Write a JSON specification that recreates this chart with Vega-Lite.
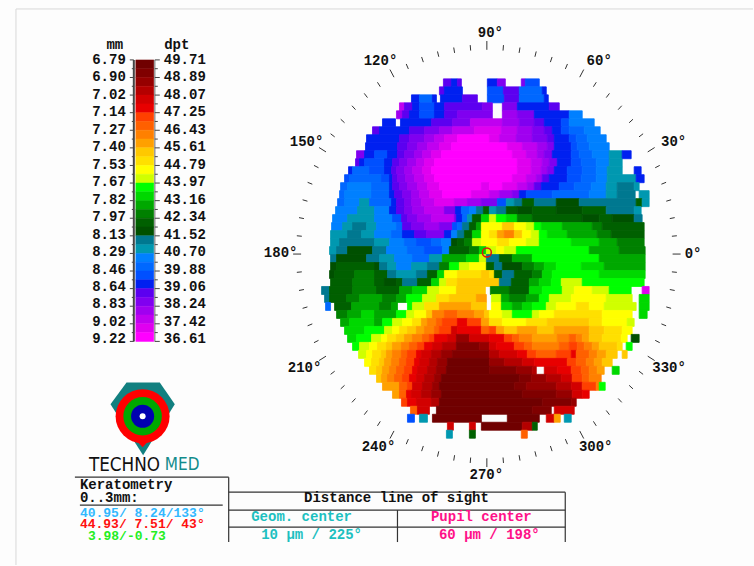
{"$schema":"https://vega.github.io/schema/vega-lite/v6.json","width":754,"height":566,"autosize":{"type":"fit","contains":"padding"},"padding":0,"background":"#fdfdfd","view":{"stroke":null},
"datasets":{"map":[
{"y":83,"x":444,"x2":452,"b":27},{"y":83,"x":452,"x2":458,"b":26},{"y":83,"x":458,"x2":462,"b":27},{"y":83,"x":488,"x2":498,"b":26},{"y":83,"x":498,"x2":506,"b":28},{"y":83,"x":522,"x2":526,"b":28},{"y":83,"x":526,"x2":540,"b":25},
{"y":91,"x":440,"x2":445,"b":27},{"y":91,"x":445,"x2":463,"b":26},{"y":91,"x":488,"x2":504,"b":25},{"y":91,"x":504,"x2":520,"b":27},{"y":91,"x":520,"x2":543,"b":24},{"y":91,"x":543,"x2":547,"b":26},
{"y":99,"x":412,"x2":420,"b":26},{"y":99,"x":420,"x2":433,"b":24},{"y":99,"x":433,"x2":437,"b":26},{"y":99,"x":441,"x2":463,"b":26},{"y":99,"x":463,"x2":478,"b":27},{"y":99,"x":488,"x2":505,"b":25},{"y":99,"x":505,"x2":520,"b":27},{"y":99,"x":520,"x2":545,"b":24},{"y":99,"x":545,"x2":549,"b":26},
{"y":107,"x":400,"x2":405,"b":30},{"y":107,"x":405,"x2":413,"b":27},{"y":107,"x":413,"x2":420,"b":26},{"y":107,"x":420,"x2":435,"b":25},{"y":107,"x":435,"x2":445,"b":26},{"y":107,"x":445,"x2":483,"b":27},{"y":107,"x":483,"x2":493,"b":28},{"y":107,"x":503,"x2":518,"b":28},{"y":107,"x":518,"x2":550,"b":26},{"y":107,"x":550,"x2":560,"b":27},
{"y":115,"x":397,"x2":403,"b":29},{"y":115,"x":403,"x2":410,"b":27},{"y":115,"x":410,"x2":420,"b":26},{"y":115,"x":420,"x2":435,"b":25},{"y":115,"x":435,"x2":445,"b":26},{"y":115,"x":445,"x2":458,"b":27},{"y":115,"x":458,"x2":493,"b":28},{"y":115,"x":503,"x2":518,"b":29},{"y":115,"x":518,"x2":535,"b":28},{"y":115,"x":535,"x2":570,"b":26},{"y":115,"x":570,"x2":583,"b":23},
{"y":123,"x":383,"x2":396,"b":26},{"y":123,"x":401,"x2":432,"b":26},{"y":123,"x":432,"x2":453,"b":27},{"y":123,"x":453,"x2":471,"b":28},{"y":123,"x":471,"x2":503,"b":30},{"y":123,"x":503,"x2":520,"b":29},{"y":123,"x":520,"x2":535,"b":28},{"y":123,"x":535,"x2":545,"b":27},{"y":123,"x":545,"x2":562,"b":26},{"y":123,"x":562,"x2":570,"b":25},{"y":123,"x":570,"x2":595,"b":23},
{"y":131,"x":373,"x2":380,"b":27},{"y":131,"x":380,"x2":410,"b":26},{"y":131,"x":410,"x2":425,"b":27},{"y":131,"x":425,"x2":440,"b":28},{"y":131,"x":440,"x2":453,"b":29},{"y":131,"x":453,"x2":475,"b":30},{"y":131,"x":475,"x2":502,"b":31},{"y":131,"x":502,"x2":518,"b":30},{"y":131,"x":518,"x2":533,"b":29},{"y":131,"x":533,"x2":545,"b":28},{"y":131,"x":545,"x2":553,"b":27},{"y":131,"x":553,"x2":562,"b":26},{"y":131,"x":562,"x2":570,"b":25},{"y":131,"x":570,"x2":585,"b":24},{"y":131,"x":585,"x2":601,"b":23},
{"y":139,"x":367,"x2":400,"b":26},{"y":139,"x":400,"x2":410,"b":27},{"y":139,"x":410,"x2":425,"b":28},{"y":139,"x":425,"x2":435,"b":29},{"y":139,"x":435,"x2":445,"b":30},{"y":139,"x":445,"x2":458,"b":31},{"y":139,"x":458,"x2":490,"b":32},{"y":139,"x":490,"x2":500,"b":31},{"y":139,"x":500,"x2":517,"b":30},{"y":139,"x":517,"x2":533,"b":29},{"y":139,"x":533,"x2":548,"b":28},{"y":139,"x":548,"x2":555,"b":27},{"y":139,"x":555,"x2":570,"b":26},{"y":139,"x":570,"x2":577,"b":25},{"y":139,"x":577,"x2":588,"b":24},{"y":139,"x":588,"x2":607,"b":23},
{"y":147,"x":366,"x2":398,"b":26},{"y":147,"x":398,"x2":408,"b":27},{"y":147,"x":408,"x2":418,"b":28},{"y":147,"x":418,"x2":428,"b":29},{"y":147,"x":428,"x2":440,"b":30},{"y":147,"x":440,"x2":452,"b":31},{"y":147,"x":452,"x2":508,"b":32},{"y":147,"x":508,"x2":523,"b":31},{"y":147,"x":523,"x2":538,"b":30},{"y":147,"x":538,"x2":548,"b":29},{"y":147,"x":548,"x2":555,"b":28},{"y":147,"x":555,"x2":572,"b":26},{"y":147,"x":572,"x2":578,"b":25},{"y":147,"x":578,"x2":590,"b":24},{"y":147,"x":590,"x2":610,"b":23},
{"y":155,"x":357,"x2":365,"b":28},{"y":155,"x":365,"x2":375,"b":26},{"y":155,"x":375,"x2":388,"b":25},{"y":155,"x":388,"x2":398,"b":26},{"y":155,"x":398,"x2":405,"b":27},{"y":155,"x":405,"x2":415,"b":28},{"y":155,"x":415,"x2":423,"b":29},{"y":155,"x":423,"x2":432,"b":30},{"y":155,"x":432,"x2":442,"b":31},{"y":155,"x":442,"x2":513,"b":32},{"y":155,"x":513,"x2":527,"b":31},{"y":155,"x":527,"x2":538,"b":30},{"y":155,"x":538,"x2":545,"b":29},{"y":155,"x":545,"x2":553,"b":28},{"y":155,"x":553,"x2":572,"b":26},{"y":155,"x":572,"x2":580,"b":25},{"y":155,"x":580,"x2":593,"b":24},{"y":155,"x":593,"x2":610,"b":23},{"y":155,"x":610,"x2":623,"b":22},{"y":155,"x":623,"x2":632,"b":26},
{"y":163,"x":356,"x2":360,"b":27},{"y":163,"x":360,"x2":365,"b":26},{"y":163,"x":365,"x2":385,"b":25},{"y":163,"x":385,"x2":393,"b":26},{"y":163,"x":393,"x2":400,"b":27},{"y":163,"x":400,"x2":408,"b":28},{"y":163,"x":408,"x2":417,"b":29},{"y":163,"x":417,"x2":425,"b":30},{"y":163,"x":425,"x2":435,"b":31},{"y":163,"x":435,"x2":518,"b":32},{"y":163,"x":518,"x2":532,"b":31},{"y":163,"x":532,"x2":543,"b":30},{"y":163,"x":543,"x2":550,"b":29},{"y":163,"x":550,"x2":558,"b":28},{"y":163,"x":558,"x2":572,"b":26},{"y":163,"x":572,"x2":582,"b":25},{"y":163,"x":582,"x2":597,"b":24},{"y":163,"x":597,"x2":610,"b":23},{"y":163,"x":610,"x2":623,"b":22},
{"y":171,"x":349,"x2":353,"b":26},{"y":171,"x":353,"x2":370,"b":24},{"y":171,"x":370,"x2":385,"b":25},{"y":171,"x":385,"x2":392,"b":26},{"y":171,"x":392,"x2":397,"b":27},{"y":171,"x":397,"x2":405,"b":28},{"y":171,"x":405,"x2":413,"b":29},{"y":171,"x":413,"x2":423,"b":30},{"y":171,"x":423,"x2":432,"b":31},{"y":171,"x":432,"x2":518,"b":32},{"y":171,"x":518,"x2":532,"b":31},{"y":171,"x":532,"x2":542,"b":30},{"y":171,"x":542,"x2":548,"b":29},{"y":171,"x":548,"x2":555,"b":28},{"y":171,"x":555,"x2":568,"b":26},{"y":171,"x":568,"x2":583,"b":25},{"y":171,"x":583,"x2":597,"b":24},{"y":171,"x":597,"x2":608,"b":23},{"y":171,"x":608,"x2":623,"b":22},{"y":171,"x":635,"x2":642,"b":26},
{"y":179,"x":345,"x2":350,"b":25},{"y":179,"x":350,"x2":382,"b":24},{"y":179,"x":382,"x2":390,"b":25},{"y":179,"x":390,"x2":393,"b":26},{"y":179,"x":393,"x2":398,"b":27},{"y":179,"x":398,"x2":406,"b":28},{"y":179,"x":406,"x2":415,"b":29},{"y":179,"x":415,"x2":425,"b":30},{"y":179,"x":425,"x2":435,"b":31},{"y":179,"x":435,"x2":513,"b":32},{"y":179,"x":513,"x2":527,"b":31},{"y":179,"x":527,"x2":537,"b":30},{"y":179,"x":537,"x2":543,"b":29},{"y":179,"x":543,"x2":550,"b":27},{"y":179,"x":550,"x2":568,"b":26},{"y":179,"x":568,"x2":582,"b":25},{"y":179,"x":582,"x2":597,"b":24},{"y":179,"x":597,"x2":608,"b":23},{"y":179,"x":608,"x2":637,"b":22},{"y":179,"x":637,"x2":645,"b":26},
{"y":187,"x":341,"x2":348,"b":24},{"y":187,"x":348,"x2":372,"b":23},{"y":187,"x":372,"x2":390,"b":24},{"y":187,"x":390,"x2":393,"b":26},{"y":187,"x":393,"x2":400,"b":27},{"y":187,"x":400,"x2":408,"b":28},{"y":187,"x":408,"x2":418,"b":29},{"y":187,"x":418,"x2":428,"b":30},{"y":187,"x":428,"x2":440,"b":31},{"y":187,"x":440,"x2":482,"b":32},{"y":187,"x":482,"x2":490,"b":31},{"y":187,"x":490,"x2":503,"b":32},{"y":187,"x":503,"x2":518,"b":31},{"y":187,"x":518,"x2":528,"b":30},{"y":187,"x":528,"x2":535,"b":29},{"y":187,"x":535,"x2":542,"b":27},{"y":187,"x":542,"x2":560,"b":26},{"y":187,"x":560,"x2":575,"b":25},{"y":187,"x":575,"x2":592,"b":24},{"y":187,"x":592,"x2":607,"b":23},{"y":187,"x":607,"x2":618,"b":22},{"y":187,"x":618,"x2":635,"b":21},{"y":187,"x":635,"x2":640,"b":22},
{"y":195,"x":340,"x2":345,"b":24},{"y":195,"x":345,"x2":372,"b":23},{"y":195,"x":372,"x2":390,"b":24},{"y":195,"x":390,"x2":395,"b":26},{"y":195,"x":395,"x2":403,"b":27},{"y":195,"x":403,"x2":412,"b":28},{"y":195,"x":412,"x2":420,"b":29},{"y":195,"x":420,"x2":430,"b":30},{"y":195,"x":430,"x2":443,"b":31},{"y":195,"x":443,"x2":472,"b":32},{"y":195,"x":472,"x2":490,"b":31},{"y":195,"x":490,"x2":500,"b":30},{"y":195,"x":500,"x2":513,"b":29},{"y":195,"x":513,"x2":520,"b":28},{"y":195,"x":520,"x2":527,"b":26},{"y":195,"x":527,"x2":553,"b":25},{"y":195,"x":553,"x2":590,"b":24},{"y":195,"x":590,"x2":607,"b":23},{"y":195,"x":607,"x2":618,"b":22},{"y":195,"x":618,"x2":636,"b":21},{"y":195,"x":640,"x2":650,"b":22},
{"y":203,"x":338,"x2":345,"b":24},{"y":203,"x":345,"x2":360,"b":23},{"y":203,"x":360,"x2":370,"b":22},{"y":203,"x":370,"x2":392,"b":24},{"y":203,"x":392,"x2":397,"b":26},{"y":203,"x":397,"x2":405,"b":27},{"y":203,"x":405,"x2":412,"b":28},{"y":203,"x":412,"x2":422,"b":29},{"y":203,"x":422,"x2":435,"b":30},{"y":203,"x":435,"x2":455,"b":31},{"y":203,"x":455,"x2":468,"b":30},{"y":203,"x":468,"x2":482,"b":29},{"y":203,"x":482,"x2":498,"b":28},{"y":203,"x":498,"x2":507,"b":25},{"y":203,"x":507,"x2":515,"b":22},{"y":203,"x":515,"x2":523,"b":21},{"y":203,"x":523,"x2":535,"b":19},{"y":203,"x":535,"x2":557,"b":21},{"y":203,"x":557,"x2":580,"b":20},{"y":203,"x":580,"x2":637,"b":21},{"y":203,"x":637,"x2":643,"b":19},{"y":203,"x":643,"x2":650,"b":22},
{"y":211,"x":336,"x2":358,"b":23},{"y":211,"x":358,"x2":375,"b":22},{"y":211,"x":375,"x2":390,"b":23},{"y":211,"x":390,"x2":397,"b":26},{"y":211,"x":397,"x2":405,"b":27},{"y":211,"x":405,"x2":413,"b":28},{"y":211,"x":413,"x2":425,"b":29},{"y":211,"x":425,"x2":445,"b":30},{"y":211,"x":445,"x2":456,"b":28},{"y":211,"x":456,"x2":462,"b":26},{"y":211,"x":462,"x2":470,"b":24},{"y":211,"x":470,"x2":477,"b":23},{"y":211,"x":477,"x2":484,"b":21},{"y":211,"x":484,"x2":490,"b":19},{"y":211,"x":490,"x2":497,"b":22},{"y":211,"x":497,"x2":507,"b":21},{"y":211,"x":507,"x2":518,"b":19},{"y":211,"x":518,"x2":533,"b":20},{"y":211,"x":533,"x2":557,"b":19},{"y":211,"x":557,"x2":583,"b":20},{"y":211,"x":583,"x2":607,"b":19},{"y":211,"x":607,"x2":635,"b":21},{"y":211,"x":635,"x2":642,"b":22},
{"y":219,"x":333,"x2":348,"b":23},{"y":219,"x":348,"x2":375,"b":22},{"y":219,"x":375,"x2":393,"b":23},{"y":219,"x":393,"x2":402,"b":25},{"y":219,"x":402,"x2":408,"b":27},{"y":219,"x":408,"x2":418,"b":28},{"y":219,"x":418,"x2":432,"b":29},{"y":219,"x":432,"x2":455,"b":30},{"y":219,"x":455,"x2":457,"b":28},{"y":219,"x":457,"x2":463,"b":26},{"y":219,"x":463,"x2":468,"b":24},{"y":219,"x":468,"x2":473,"b":22},{"y":219,"x":473,"x2":482,"b":19},{"y":219,"x":482,"x2":490,"b":16},{"y":219,"x":490,"x2":497,"b":14},{"y":219,"x":497,"x2":507,"b":15},{"y":219,"x":507,"x2":518,"b":16},{"y":219,"x":518,"x2":533,"b":18},{"y":219,"x":533,"x2":583,"b":19},{"y":219,"x":583,"x2":600,"b":20},{"y":219,"x":600,"x2":613,"b":19},{"y":219,"x":613,"x2":635,"b":20},{"y":219,"x":635,"x2":643,"b":21},
{"y":227,"x":332,"x2":343,"b":23},{"y":227,"x":343,"x2":353,"b":22},{"y":227,"x":353,"x2":367,"b":21},{"y":227,"x":367,"x2":377,"b":22},{"y":227,"x":377,"x2":397,"b":23},{"y":227,"x":397,"x2":403,"b":24},{"y":227,"x":403,"x2":412,"b":27},{"y":227,"x":412,"x2":425,"b":28},{"y":227,"x":425,"x2":440,"b":29},{"y":227,"x":440,"x2":453,"b":28},{"y":227,"x":453,"x2":458,"b":25},{"y":227,"x":458,"x2":463,"b":24},{"y":227,"x":463,"x2":470,"b":21},{"y":227,"x":470,"x2":477,"b":19},{"y":227,"x":477,"x2":482,"b":17},{"y":227,"x":482,"x2":503,"b":13},{"y":227,"x":503,"x2":515,"b":11},{"y":227,"x":515,"x2":527,"b":13},{"y":227,"x":527,"x2":535,"b":14},{"y":227,"x":535,"x2":542,"b":15},{"y":227,"x":542,"x2":563,"b":16},{"y":227,"x":563,"x2":593,"b":17},{"y":227,"x":593,"x2":603,"b":18},{"y":227,"x":603,"x2":645,"b":19},
{"y":235,"x":331,"x2":348,"b":22},{"y":235,"x":348,"x2":362,"b":21},{"y":235,"x":362,"x2":375,"b":22},{"y":235,"x":375,"x2":392,"b":23},{"y":235,"x":392,"x2":403,"b":24},{"y":235,"x":403,"x2":415,"b":26},{"y":235,"x":415,"x2":427,"b":27},{"y":235,"x":427,"x2":445,"b":28},{"y":235,"x":445,"x2":452,"b":26},{"y":235,"x":452,"x2":458,"b":23},{"y":235,"x":458,"x2":465,"b":21},{"y":235,"x":465,"x2":473,"b":19},{"y":235,"x":473,"x2":482,"b":16},{"y":235,"x":482,"x2":490,"b":13},{"y":235,"x":490,"x2":498,"b":12},{"y":235,"x":498,"x2":505,"b":10},{"y":235,"x":505,"x2":515,"b":9},{"y":235,"x":515,"x2":523,"b":11},{"y":235,"x":523,"x2":532,"b":13},{"y":235,"x":532,"x2":540,"b":14},{"y":235,"x":540,"x2":548,"b":15},{"y":235,"x":548,"x2":568,"b":16},{"y":235,"x":568,"x2":598,"b":17},{"y":235,"x":598,"x2":612,"b":18},{"y":235,"x":612,"x2":645,"b":19},
{"y":243,"x":331,"x2":340,"b":22},{"y":243,"x":340,"x2":375,"b":21},{"y":243,"x":375,"x2":390,"b":22},{"y":243,"x":390,"x2":405,"b":23},{"y":243,"x":405,"x2":417,"b":24},{"y":243,"x":417,"x2":432,"b":25},{"y":243,"x":432,"x2":442,"b":24},{"y":243,"x":442,"x2":452,"b":23},{"y":243,"x":452,"x2":458,"b":20},{"y":243,"x":458,"x2":465,"b":19},{"y":243,"x":465,"x2":473,"b":18},{"y":243,"x":473,"x2":482,"b":14},{"y":243,"x":482,"x2":498,"b":13},{"y":243,"x":498,"x2":510,"b":12},{"y":243,"x":510,"x2":527,"b":13},{"y":243,"x":527,"x2":540,"b":14},{"y":243,"x":540,"x2":572,"b":15},{"y":243,"x":572,"x2":600,"b":16},{"y":243,"x":600,"x2":618,"b":17},{"y":243,"x":618,"x2":645,"b":18},
{"y":251,"x":330,"x2":337,"b":22},{"y":251,"x":337,"x2":348,"b":21},{"y":251,"x":348,"x2":373,"b":20},{"y":251,"x":373,"x2":387,"b":21},{"y":251,"x":387,"x2":408,"b":23},{"y":251,"x":408,"x2":425,"b":24},{"y":251,"x":425,"x2":443,"b":25},{"y":251,"x":443,"x2":450,"b":23},{"y":251,"x":450,"x2":470,"b":19},{"y":251,"x":470,"x2":480,"b":18},{"y":251,"x":480,"x2":487,"b":16},{"y":251,"x":487,"x2":497,"b":14},{"y":251,"x":497,"x2":505,"b":13},{"y":251,"x":505,"x2":517,"b":14},{"y":251,"x":517,"x2":590,"b":15},{"y":251,"x":590,"x2":620,"b":17},{"y":251,"x":620,"x2":646,"b":18},
{"y":259,"x":331,"x2":337,"b":21},{"y":259,"x":337,"x2":367,"b":20},{"y":259,"x":367,"x2":380,"b":21},{"y":259,"x":380,"x2":395,"b":22},{"y":259,"x":395,"x2":413,"b":23},{"y":259,"x":413,"x2":430,"b":24},{"y":259,"x":430,"x2":443,"b":22},{"y":259,"x":443,"x2":467,"b":17},{"y":259,"x":467,"x2":480,"b":16},{"y":259,"x":480,"x2":487,"b":14},{"y":259,"x":487,"x2":500,"b":21},{"y":259,"x":500,"x2":513,"b":19},{"y":259,"x":513,"x2":533,"b":17},{"y":259,"x":533,"x2":600,"b":15},{"y":259,"x":600,"x2":646,"b":17},
{"y":267,"x":331,"x2":337,"b":20},{"y":267,"x":337,"x2":375,"b":19},{"y":267,"x":375,"x2":380,"b":20},{"y":267,"x":380,"x2":388,"b":21},{"y":267,"x":388,"x2":397,"b":22},{"y":267,"x":397,"x2":412,"b":23},{"y":267,"x":412,"x2":428,"b":22},{"y":267,"x":428,"x2":440,"b":21},{"y":267,"x":440,"x2":450,"b":18},{"y":267,"x":450,"x2":460,"b":15},{"y":267,"x":460,"x2":470,"b":14},{"y":267,"x":470,"x2":487,"b":13},{"y":267,"x":487,"x2":495,"b":19},{"y":267,"x":495,"x2":503,"b":21},{"y":267,"x":503,"x2":523,"b":20},{"y":267,"x":523,"x2":535,"b":18},{"y":267,"x":535,"x2":545,"b":17},{"y":267,"x":545,"x2":557,"b":16},{"y":267,"x":557,"x2":582,"b":15},{"y":267,"x":582,"x2":605,"b":16},{"y":267,"x":605,"x2":646,"b":17},
{"y":275,"x":330,"x2":335,"b":20},{"y":275,"x":335,"x2":355,"b":19},{"y":275,"x":355,"x2":375,"b":18},{"y":275,"x":375,"x2":388,"b":19},{"y":275,"x":388,"x2":397,"b":21},{"y":275,"x":397,"x2":417,"b":22},{"y":275,"x":417,"x2":428,"b":21},{"y":275,"x":428,"x2":438,"b":19},{"y":275,"x":438,"x2":445,"b":16},{"y":275,"x":445,"x2":458,"b":13},{"y":275,"x":458,"x2":482,"b":12},{"y":275,"x":482,"x2":490,"b":11},{"y":275,"x":490,"x2":495,"b":12},{"y":275,"x":495,"x2":503,"b":19},{"y":275,"x":503,"x2":515,"b":21},{"y":275,"x":515,"x2":533,"b":19},{"y":275,"x":533,"x2":543,"b":18},{"y":275,"x":543,"x2":553,"b":16},{"y":275,"x":553,"x2":600,"b":15},{"y":275,"x":600,"x2":646,"b":16},
{"y":283,"x":331,"x2":353,"b":19},{"y":283,"x":353,"x2":375,"b":18},{"y":283,"x":375,"x2":385,"b":19},{"y":283,"x":385,"x2":397,"b":20},{"y":283,"x":397,"x2":403,"b":19},{"y":283,"x":403,"x2":418,"b":21},{"y":283,"x":418,"x2":432,"b":19},{"y":283,"x":432,"x2":440,"b":16},{"y":283,"x":440,"x2":447,"b":14},{"y":283,"x":447,"x2":458,"b":12},{"y":283,"x":458,"x2":500,"b":11},{"y":283,"x":500,"x2":512,"b":21},{"y":283,"x":512,"x2":530,"b":19},{"y":283,"x":530,"x2":540,"b":17},{"y":283,"x":540,"x2":552,"b":16},{"y":283,"x":552,"x2":562,"b":15},{"y":283,"x":562,"x2":583,"b":14},{"y":283,"x":583,"x2":645,"b":15},
{"y":291,"x":322,"x2":330,"b":21},{"y":291,"x":330,"x2":353,"b":19},{"y":291,"x":353,"x2":377,"b":18},{"y":291,"x":377,"x2":400,"b":19},{"y":291,"x":400,"x2":413,"b":17},{"y":291,"x":413,"x2":428,"b":16},{"y":291,"x":428,"x2":440,"b":14},{"y":291,"x":440,"x2":457,"b":13},{"y":291,"x":457,"x2":486,"b":11},{"y":291,"x":491,"x2":510,"b":18},{"y":291,"x":510,"x2":530,"b":19},{"y":291,"x":530,"x2":543,"b":16},{"y":291,"x":543,"x2":563,"b":15},{"y":291,"x":563,"x2":575,"b":14},{"y":291,"x":575,"x2":593,"b":13},{"y":291,"x":593,"x2":610,"b":14},{"y":291,"x":610,"x2":632,"b":15},{"y":291,"x":643,"x2":650,"b":31},
{"y":299,"x":325,"x2":330,"b":21},{"y":299,"x":330,"x2":347,"b":19},{"y":299,"x":347,"x2":360,"b":18},{"y":299,"x":360,"x2":383,"b":17},{"y":299,"x":383,"x2":397,"b":18},{"y":299,"x":397,"x2":407,"b":17},{"y":299,"x":407,"x2":423,"b":15},{"y":299,"x":423,"x2":437,"b":14},{"y":299,"x":437,"x2":450,"b":12},{"y":299,"x":450,"x2":477,"b":11},{"y":299,"x":477,"x2":487,"b":10},{"y":299,"x":492,"x2":502,"b":14},{"y":299,"x":502,"x2":510,"b":17},{"y":299,"x":510,"x2":527,"b":18},{"y":299,"x":527,"x2":540,"b":17},{"y":299,"x":540,"x2":550,"b":15},{"y":299,"x":550,"x2":572,"b":14},{"y":299,"x":572,"x2":607,"b":13},{"y":299,"x":607,"x2":633,"b":14},{"y":299,"x":640,"x2":650,"b":16},
{"y":307,"x":326,"x2":331,"b":24},{"y":307,"x":335,"x2":352,"b":19},{"y":307,"x":352,"x2":380,"b":17},{"y":307,"x":380,"x2":392,"b":18},{"y":307,"x":392,"x2":398,"b":17},{"y":307,"x":408,"x2":413,"b":15},{"y":307,"x":413,"x2":425,"b":14},{"y":307,"x":425,"x2":440,"b":12},{"y":307,"x":440,"x2":472,"b":10},{"y":307,"x":472,"x2":487,"b":11},{"y":307,"x":492,"x2":502,"b":13},{"y":307,"x":502,"x2":513,"b":16},{"y":307,"x":513,"x2":523,"b":17},{"y":307,"x":523,"x2":533,"b":16},{"y":307,"x":533,"x2":547,"b":15},{"y":307,"x":547,"x2":557,"b":14},{"y":307,"x":557,"x2":577,"b":13},{"y":307,"x":577,"x2":590,"b":12},{"y":307,"x":590,"x2":605,"b":13},{"y":307,"x":605,"x2":637,"b":14},{"y":307,"x":640,"x2":650,"b":16},
{"y":315,"x":337,"x2":348,"b":18},{"y":315,"x":348,"x2":362,"b":17},{"y":315,"x":362,"x2":375,"b":16},{"y":315,"x":375,"x2":397,"b":17},{"y":315,"x":397,"x2":407,"b":15},{"y":315,"x":407,"x2":415,"b":14},{"y":315,"x":415,"x2":427,"b":13},{"y":315,"x":427,"x2":433,"b":11},{"y":315,"x":433,"x2":445,"b":9},{"y":315,"x":445,"x2":458,"b":8},{"y":315,"x":458,"x2":475,"b":9},{"y":315,"x":475,"x2":485,"b":10},{"y":315,"x":485,"x2":490,"b":11},{"y":315,"x":490,"x2":503,"b":13},{"y":315,"x":503,"x2":513,"b":14},{"y":315,"x":513,"x2":533,"b":15},{"y":315,"x":533,"x2":540,"b":14},{"y":315,"x":540,"x2":555,"b":13},{"y":315,"x":555,"x2":603,"b":12},{"y":315,"x":603,"x2":633,"b":13},{"y":315,"x":640,"x2":648,"b":16},
{"y":323,"x":341,"x2":350,"b":17},{"y":323,"x":350,"x2":375,"b":16},{"y":323,"x":375,"x2":383,"b":17},{"y":323,"x":383,"x2":393,"b":15},{"y":323,"x":393,"x2":403,"b":14},{"y":323,"x":403,"x2":413,"b":13},{"y":323,"x":413,"x2":422,"b":12},{"y":323,"x":422,"x2":428,"b":10},{"y":323,"x":428,"x2":437,"b":9},{"y":323,"x":437,"x2":443,"b":8},{"y":323,"x":443,"x2":458,"b":7},{"y":323,"x":458,"x2":468,"b":6},{"y":323,"x":468,"x2":482,"b":7},{"y":323,"x":482,"x2":490,"b":10},{"y":323,"x":490,"x2":503,"b":12},{"y":323,"x":503,"x2":527,"b":13},{"y":323,"x":527,"x2":548,"b":12},{"y":323,"x":548,"x2":590,"b":11},{"y":323,"x":590,"x2":603,"b":12},{"y":323,"x":603,"x2":628,"b":13},{"y":323,"x":628,"x2":635,"b":14},
{"y":331,"x":345,"x2":365,"b":16},{"y":331,"x":365,"x2":385,"b":15},{"y":331,"x":385,"x2":393,"b":14},{"y":331,"x":393,"x2":400,"b":13},{"y":331,"x":400,"x2":408,"b":12},{"y":331,"x":408,"x2":417,"b":11},{"y":331,"x":417,"x2":425,"b":10},{"y":331,"x":425,"x2":435,"b":9},{"y":331,"x":435,"x2":440,"b":8},{"y":331,"x":440,"x2":452,"b":7},{"y":331,"x":452,"x2":458,"b":5},{"y":331,"x":458,"x2":482,"b":6},{"y":331,"x":482,"x2":490,"b":8},{"y":331,"x":490,"x2":497,"b":7},{"y":331,"x":497,"x2":505,"b":10},{"y":331,"x":505,"x2":518,"b":11},{"y":331,"x":518,"x2":538,"b":10},{"y":331,"x":538,"x2":555,"b":11},{"y":331,"x":555,"x2":590,"b":10},{"y":331,"x":590,"x2":605,"b":11},{"y":331,"x":605,"x2":623,"b":12},{"y":331,"x":623,"x2":633,"b":13},
{"y":339,"x":348,"x2":357,"b":16},{"y":339,"x":357,"x2":372,"b":15},{"y":339,"x":372,"x2":382,"b":14},{"y":339,"x":382,"x2":388,"b":13},{"y":339,"x":388,"x2":397,"b":12},{"y":339,"x":397,"x2":405,"b":11},{"y":339,"x":405,"x2":413,"b":10},{"y":339,"x":413,"x2":423,"b":9},{"y":339,"x":423,"x2":430,"b":8},{"y":339,"x":430,"x2":435,"b":7},{"y":339,"x":435,"x2":448,"b":6},{"y":339,"x":448,"x2":457,"b":5},{"y":339,"x":457,"x2":470,"b":3},{"y":339,"x":470,"x2":490,"b":5},{"y":339,"x":490,"x2":505,"b":6},{"y":339,"x":505,"x2":513,"b":7},{"y":339,"x":513,"x2":520,"b":8},{"y":339,"x":520,"x2":533,"b":9},{"y":339,"x":533,"x2":558,"b":10},{"y":339,"x":558,"x2":570,"b":9},{"y":339,"x":570,"x2":577,"b":8},{"y":339,"x":577,"x2":583,"b":9},{"y":339,"x":583,"x2":590,"b":10},{"y":339,"x":590,"x2":603,"b":11},{"y":339,"x":603,"x2":622,"b":12},{"y":339,"x":622,"x2":628,"b":13},{"y":339,"x":632,"x2":640,"b":20},
{"y":347,"x":353,"x2":360,"b":15},{"y":347,"x":360,"x2":370,"b":14},{"y":347,"x":370,"x2":378,"b":13},{"y":347,"x":378,"x2":387,"b":12},{"y":347,"x":387,"x2":393,"b":11},{"y":347,"x":393,"x2":402,"b":10},{"y":347,"x":402,"x2":410,"b":9},{"y":347,"x":410,"x2":418,"b":8},{"y":347,"x":418,"x2":425,"b":7},{"y":347,"x":425,"x2":433,"b":6},{"y":347,"x":433,"x2":443,"b":5},{"y":347,"x":443,"x2":457,"b":4},{"y":347,"x":457,"x2":480,"b":2},{"y":347,"x":480,"x2":490,"b":3},{"y":347,"x":490,"x2":497,"b":5},{"y":347,"x":497,"x2":515,"b":6},{"y":347,"x":515,"x2":525,"b":7},{"y":347,"x":525,"x2":533,"b":8},{"y":347,"x":533,"x2":560,"b":9},{"y":347,"x":560,"x2":570,"b":8},{"y":347,"x":570,"x2":578,"b":7},{"y":347,"x":578,"x2":585,"b":8},{"y":347,"x":585,"x2":593,"b":9},{"y":347,"x":593,"x2":600,"b":10},{"y":347,"x":600,"x2":618,"b":11},{"y":347,"x":618,"x2":623,"b":12},{"y":347,"x":627,"x2":633,"b":15},
{"y":355,"x":359,"x2":367,"b":14},{"y":355,"x":367,"x2":373,"b":13},{"y":355,"x":373,"x2":382,"b":12},{"y":355,"x":382,"x2":387,"b":11},{"y":355,"x":387,"x2":393,"b":10},{"y":355,"x":393,"x2":402,"b":9},{"y":355,"x":402,"x2":408,"b":8},{"y":355,"x":408,"x2":417,"b":7},{"y":355,"x":417,"x2":422,"b":6},{"y":355,"x":422,"x2":432,"b":5},{"y":355,"x":432,"x2":442,"b":4},{"y":355,"x":442,"x2":453,"b":3},{"y":355,"x":453,"x2":490,"b":2},{"y":355,"x":490,"x2":500,"b":4},{"y":355,"x":500,"x2":518,"b":5},{"y":355,"x":518,"x2":528,"b":6},{"y":355,"x":528,"x2":537,"b":7},{"y":355,"x":537,"x2":557,"b":8},{"y":355,"x":557,"x2":572,"b":7},{"y":355,"x":572,"x2":577,"b":6},{"y":355,"x":577,"x2":590,"b":8},{"y":355,"x":590,"x2":598,"b":9},{"y":355,"x":598,"x2":607,"b":10},{"y":355,"x":607,"x2":618,"b":11},{"y":355,"x":623,"x2":628,"b":11},
{"y":363,"x":365,"x2":372,"b":13},{"y":363,"x":372,"x2":380,"b":12},{"y":363,"x":380,"x2":385,"b":11},{"y":363,"x":385,"x2":392,"b":10},{"y":363,"x":392,"x2":400,"b":9},{"y":363,"x":400,"x2":407,"b":8},{"y":363,"x":407,"x2":415,"b":7},{"y":363,"x":415,"x2":420,"b":6},{"y":363,"x":420,"x2":430,"b":5},{"y":363,"x":430,"x2":438,"b":4},{"y":363,"x":438,"x2":448,"b":3},{"y":363,"x":448,"x2":490,"b":1},{"y":363,"x":490,"x2":505,"b":3},{"y":363,"x":505,"x2":523,"b":4},{"y":363,"x":523,"x2":535,"b":5},{"y":363,"x":535,"x2":568,"b":6},{"y":363,"x":568,"x2":577,"b":7},{"y":363,"x":577,"x2":587,"b":8},{"y":363,"x":587,"x2":595,"b":9},{"y":363,"x":595,"x2":603,"b":10},{"y":363,"x":603,"x2":613,"b":11},
{"y":371,"x":370,"x2":377,"b":12},{"y":371,"x":377,"x2":383,"b":11},{"y":371,"x":383,"x2":390,"b":10},{"y":371,"x":390,"x2":397,"b":9},{"y":371,"x":397,"x2":405,"b":8},{"y":371,"x":405,"x2":413,"b":7},{"y":371,"x":413,"x2":418,"b":6},{"y":371,"x":418,"x2":428,"b":5},{"y":371,"x":428,"x2":437,"b":4},{"y":371,"x":437,"x2":447,"b":3},{"y":371,"x":447,"x2":490,"b":1},{"y":371,"x":490,"x2":517,"b":2},{"y":371,"x":517,"x2":533,"b":3},{"y":371,"x":533,"x2":537,"b":4},{"y":371,"x":545,"x2":558,"b":5},{"y":371,"x":558,"x2":572,"b":6},{"y":371,"x":572,"x2":582,"b":7},{"y":371,"x":582,"x2":590,"b":8},{"y":371,"x":590,"x2":598,"b":9},{"y":371,"x":598,"x2":605,"b":10},{"y":371,"x":613,"x2":620,"b":16},
{"y":379,"x":377,"x2":382,"b":11},{"y":379,"x":382,"x2":388,"b":10},{"y":379,"x":388,"x2":395,"b":9},{"y":379,"x":395,"x2":403,"b":8},{"y":379,"x":403,"x2":410,"b":7},{"y":379,"x":410,"x2":417,"b":6},{"y":379,"x":417,"x2":425,"b":5},{"y":379,"x":425,"x2":435,"b":4},{"y":379,"x":435,"x2":442,"b":3},{"y":379,"x":442,"x2":520,"b":1},{"y":379,"x":520,"x2":532,"b":2},{"y":379,"x":532,"x2":547,"b":3},{"y":379,"x":547,"x2":562,"b":4},{"y":379,"x":562,"x2":573,"b":5},{"y":379,"x":573,"x2":583,"b":7},{"y":379,"x":583,"x2":590,"b":8},{"y":379,"x":590,"x2":602,"b":9},
{"y":387,"x":383,"x2":400,"b":10},{"y":387,"x":400,"x2":408,"b":8},{"y":387,"x":408,"x2":413,"b":7},{"y":387,"x":413,"x2":423,"b":5},{"y":387,"x":423,"x2":433,"b":4},{"y":387,"x":433,"x2":440,"b":3},{"y":387,"x":440,"x2":515,"b":1},{"y":387,"x":515,"x2":527,"b":2},{"y":387,"x":527,"x2":557,"b":3},{"y":387,"x":557,"x2":572,"b":4},{"y":387,"x":572,"x2":583,"b":5},{"y":387,"x":583,"x2":597,"b":7},{"y":387,"x":597,"x2":600,"b":9},{"y":387,"x":600,"x2":606,"b":15},
{"y":395,"x":393,"x2":400,"b":10},{"y":395,"x":400,"x2":407,"b":8},{"y":395,"x":407,"x2":412,"b":6},{"y":395,"x":412,"x2":422,"b":5},{"y":395,"x":422,"x2":432,"b":4},{"y":395,"x":432,"x2":442,"b":3},{"y":395,"x":442,"x2":523,"b":1},{"y":395,"x":523,"x2":557,"b":2},{"y":395,"x":557,"x2":573,"b":3},{"y":395,"x":573,"x2":583,"b":5},{"y":395,"x":583,"x2":590,"b":6},
{"y":403,"x":402,"x2":408,"b":7},{"y":403,"x":408,"x2":417,"b":6},{"y":403,"x":417,"x2":432,"b":5},{"y":403,"x":432,"x2":440,"b":4},{"y":403,"x":440,"x2":543,"b":1},{"y":403,"x":543,"x2":572,"b":2},{"y":403,"x":572,"x2":577,"b":3},
{"y":411,"x":411,"x2":418,"b":8},{"y":411,"x":418,"x2":430,"b":5},{"y":411,"x":437,"x2":533,"b":1},{"y":411,"x":533,"x2":552,"b":2},{"y":411,"x":555,"x2":575,"b":5},
{"y":419,"x":408,"x2":415,"b":25},{"y":419,"x":420,"x2":428,"b":22},{"y":419,"x":433,"x2":482,"b":1},{"y":419,"x":508,"x2":540,"b":1},{"y":419,"x":547,"x2":555,"b":5},{"y":419,"x":555,"x2":561,"b":10},{"y":419,"x":565,"x2":572,"b":22},
{"y":427,"x":448,"x2":454,"b":5},{"y":427,"x":470,"x2":476,"b":5},{"y":427,"x":482,"x2":523,"b":1},{"y":427,"x":523,"x2":533,"b":4},{"y":427,"x":533,"x2":538,"b":19},
{"y":435,"x":447,"x2":453,"b":22},{"y":435,"x":470,"x2":476,"b":19},{"y":435,"x":522,"x2":528,"b":8}
],
"scale":[{"k":0,"mm":"6.79","dpt":"49.71"},{"k":2,"mm":"6.90","dpt":"48.89"},{"k":4,"mm":"7.02","dpt":"48.07"},{"k":6,"mm":"7.14","dpt":"47.25"},{"k":8,"mm":"7.27","dpt":"46.43"},{"k":10,"mm":"7.40","dpt":"45.61"},{"k":12,"mm":"7.53","dpt":"44.79"},{"k":14,"mm":"7.67","dpt":"43.97"},{"k":16,"mm":"7.82","dpt":"43.16"},{"k":18,"mm":"7.97","dpt":"42.34"},{"k":20,"mm":"8.13","dpt":"41.52"},{"k":22,"mm":"8.29","dpt":"40.70"},{"k":24,"mm":"8.46","dpt":"39.88"},{"k":26,"mm":"8.64","dpt":"39.06"},{"k":28,"mm":"8.83","dpt":"38.24"},{"k":30,"mm":"9.02","dpt":"37.42"},{"k":32,"mm":"9.22","dpt":"36.61"}]},
"encoding":{"x":{"field":"x","type":"quantitative","scale":{"domain":[0,754],"nice":false,"zero":false},"axis":null},"y":{"field":"y","type":"quantitative","scale":{"domain":[566,0],"nice":false,"zero":false},"axis":null}},
"layer":[
{"data":{"values":[{"x":16,"y":9,"x2":16,"y2":566},{"x":16,"y":9,"x2":754,"y2":9}]},"mark":{"type":"rule","color":"#d8d8d8","strokeWidth":1},"encoding":{"x2":{"field":"x2"},"y2":{"field":"y2"}}},
{"data":{"name":"map"},"transform":[{"calculate":"datum.y+4","as":"y2"},{"calculate":"datum.y-4","as":"y"}],"mark":{"type":"rect","strokeWidth":0.8},"encoding":{"x2":{"field":"x2"},"y2":{"field":"y2"},"color":{"field":"b","type":"ordinal","legend":null,"scale":{"domain":[1,2,3,4,5,6,7,8,9,10,11,12,13,14,15,16,17,18,19,20,21,22,23,24,25,26,27,28,29,30,31,32],"range":["#700000","#800000","#960000","#b40000","#d20000","#e80000","#ff4000","#ff6000","#ff8000","#ffa000","#ffc800","#ffe000","#ffff00","#d0ff00","#00ff00","#00d800","#00a800","#008000","#006000","#005000","#007890","#0098b0","#0080ff","#0068ff","#0050ff","#0020f0","#5c00f0","#8000f0","#a000f0","#c000f0","#e000f0","#ff00ff"]}},"stroke":{"field":"b","type":"ordinal","legend":null,"scale":{"domain":[1,2,3,4,5,6,7,8,9,10,11,12,13,14,15,16,17,18,19,20,21,22,23,24,25,26,27,28,29,30,31,32],"range":["#700000","#800000","#960000","#b40000","#d20000","#e80000","#ff4000","#ff6000","#ff8000","#ffa000","#ffc800","#ffe000","#ffff00","#d0ff00","#00ff00","#00d800","#00a800","#008000","#006000","#005000","#007890","#0098b0","#0080ff","#0068ff","#0050ff","#0020f0","#5c00f0","#8000f0","#a000f0","#c000f0","#e000f0","#ff00ff"]}}}},
{"data":{"values":[{"b":1},{"b":2},{"b":3},{"b":4},{"b":5},{"b":6},{"b":7},{"b":8},{"b":9},{"b":10},{"b":11},{"b":12},{"b":13},{"b":14},{"b":15},{"b":16},{"b":17},{"b":18},{"b":19},{"b":20},{"b":21},{"b":22},{"b":23},{"b":24},{"b":25},{"b":26},{"b":27},{"b":28},{"b":29},{"b":30},{"b":31},{"b":32}]},"transform":[{"calculate":"136","as":"x"},{"calculate":"154","as":"x2"},{"calculate":"60+(datum.b-1)*8.8125","as":"y"},{"calculate":"datum.y+8.8125","as":"y2"}],"mark":{"type":"rect","strokeWidth":0.5},"encoding":{"x2":{"field":"x2"},"y2":{"field":"y2"},"color":{"field":"b","type":"ordinal","legend":null},"stroke":{"field":"b","type":"ordinal","legend":null}}},
{"data":{"values":[{"x":134,"y":60,"x2":134,"y2":342}]},"mark":{"type":"rule","color":"#444444","strokeWidth":2},"encoding":{"x2":{"field":"x2"},"y2":{"field":"y2"}}},
{"data":{"values":[{"x":155,"y":60,"x2":155,"y2":342}]},"mark":{"type":"rule","color":"#999999","strokeWidth":1.5},"encoding":{"x2":{"field":"x2"},"y2":{"field":"y2"}}},
{"data":{"values":[{"k":0},{"k":1},{"k":2},{"k":3},{"k":4},{"k":5},{"k":6},{"k":7},{"k":8},{"k":9},{"k":10},{"k":11},{"k":12},{"k":13},{"k":14},{"k":15},{"k":16},{"k":17},{"k":18},{"k":19},{"k":20},{"k":21},{"k":22},{"k":23},{"k":24},{"k":25},{"k":26},{"k":27},{"k":28},{"k":29},{"k":30},{"k":31},{"k":32}]},"transform":[{"calculate":"60+datum.k*8.8125","as":"y"},{"calculate":"datum.k%2==0?130:132","as":"x"},{"calculate":"134","as":"x2"}],"mark":{"type":"rule","color":"#444444","strokeWidth":1},"encoding":{"x2":{"field":"x2"}}},
{"data":{"values":[{"k":0},{"k":1},{"k":2},{"k":3},{"k":4},{"k":5},{"k":6},{"k":7},{"k":8},{"k":9},{"k":10},{"k":11},{"k":12},{"k":13},{"k":14},{"k":15},{"k":16},{"k":17},{"k":18},{"k":19},{"k":20},{"k":21},{"k":22},{"k":23},{"k":24},{"k":25},{"k":26},{"k":27},{"k":28},{"k":29},{"k":30},{"k":31},{"k":32}]},"transform":[{"calculate":"60+datum.k*8.8125","as":"y"},{"calculate":"155","as":"x"},{"calculate":"datum.k%2==0?160:158","as":"x2"}],"mark":{"type":"rule","color":"#444444","strokeWidth":1},"encoding":{"x2":{"field":"x2"}}},
{"data":{"name":"scale"},"transform":[{"calculate":"60+datum.k*8.75","as":"y"},{"calculate":"126","as":"x"}],"mark":{"type":"text","font":"Liberation Mono","fontWeight":"bold","fontSize":14,"align":"right","baseline":"middle","color":"#111111"},"encoding":{"text":{"field":"mm"}}},
{"data":{"name":"scale"},"transform":[{"calculate":"60+datum.k*8.75","as":"y"},{"calculate":"164","as":"x"}],"mark":{"type":"text","font":"Liberation Mono","fontWeight":"bold","fontSize":14,"align":"left","baseline":"middle","color":"#111111"},"encoding":{"text":{"field":"dpt"}}},
{"data":{"values":[{"a":0},{"a":5},{"a":10},{"a":15},{"a":20},{"a":25},{"a":30},{"a":35},{"a":40},{"a":45},{"a":50},{"a":55},{"a":60},{"a":65},{"a":70},{"a":75},{"a":80},{"a":85},{"a":90},{"a":95},{"a":100},{"a":105},{"a":110},{"a":115},{"a":120},{"a":125},{"a":130},{"a":135},{"a":140},{"a":145},{"a":150},{"a":155},{"a":160},{"a":165},{"a":170},{"a":175},{"a":180},{"a":185},{"a":190},{"a":195},{"a":200},{"a":205},{"a":210},{"a":215},{"a":220},{"a":225},{"a":230},{"a":235},{"a":240},{"a":245},{"a":250},{"a":255},{"a":260},{"a":265},{"a":270},{"a":275},{"a":280},{"a":285},{"a":290},{"a":295},{"a":300},{"a":305},{"a":310},{"a":315},{"a":320},{"a":325},{"a":330},{"a":335},{"a":340},{"a":345},{"a":350},{"a":355}]},"transform":[{"calculate":"datum.a%30==0?194:191","as":"r"},{"calculate":"487.5+186*cos(datum.a*PI/180)","as":"x"},{"calculate":"254.5-204.6*sin(datum.a*PI/180)","as":"y"},{"calculate":"487.5+datum.r*cos(datum.a*PI/180)","as":"x2"},{"calculate":"254.5-1.1*datum.r*sin(datum.a*PI/180)","as":"y2"}],"mark":{"type":"rule","color":"#333333","strokeWidth":1},"encoding":{"x2":{"field":"x2"},"y2":{"field":"y2"}}},
{"data":{"values":[{"x":142.8,"y":417}]},"mark":{"type":"point","filled":true,"opacity":1,"color":"#128080","size":4225,"strokeWidth":0,"shape":"M-0.495 -1.037L0.529 -1.037L0.99 -0.369L0.015 1.2L-0.988 -0.369Z"}},
{"data":{"values":[{"x":142.8,"y":417}]},"mark":{"type":"point","filled":true,"opacity":1,"color":"#ff0000","size":4225,"strokeWidth":0,"shape":"M-0.8 0.1L0.8 0.1L0 0.95Z"}},
{"data":{"values":[{"x":142.8,"y":417}]},"mark":{"type":"point","filled":true,"opacity":1,"shape":"circle","color":"#ff0000","size":2916,"strokeWidth":0}},
{"data":{"values":[{"x":142.8,"y":417}]},"mark":{"type":"point","filled":true,"opacity":1,"shape":"circle","color":"#00a800","size":1482,"strokeWidth":0}},
{"data":{"values":[{"x":142.8,"y":417}]},"mark":{"type":"point","filled":true,"opacity":1,"shape":"circle","color":"#0000b0","size":530,"strokeWidth":0}},
{"data":{"values":[{"x":142.8,"y":417}]},"mark":{"type":"point","filled":true,"opacity":1,"shape":"circle","color":"#ffffff","size":36,"strokeWidth":0}},
{"data":{"values":[{"x":487.5,"y":253}]},"mark":{"type":"point","filled":false,"opacity":1,"shape":"circle","color":"#e01010","size":80,"strokeWidth":1.5}},
{"data":{"values":[{"x":89,"y":466,"t":"TECHNO"}]},"mark":{"type":"text","font":"DejaVu Sans Condensed","fontSize":18.7,"align":"left","baseline":"middle","color":"#111111"},"encoding":{"text":{"field":"t"}}},
{"data":{"values":[{"x":165,"y":466,"t":"MED"}]},"mark":{"type":"text","font":"DejaVu Sans Condensed","fontSize":17,"align":"left","baseline":"middle","color":"#128c8c"},"encoding":{"text":{"field":"t"}}},
{"data":{"values":[{"x":75,"y":478,"x2":229,"y2":478},{"x":229,"y":478,"x2":229,"y2":543},{"x":80,"y":506,"x2":223,"y2":506},{"x":229,"y":493,"x2":566,"y2":493},{"x":566,"y":493,"x2":566,"y2":543},{"x":229,"y":511,"x2":566,"y2":511},{"x":229,"y":528,"x2":566,"y2":528},{"x":398,"y":511,"x2":398,"y2":543}]},"mark":{"type":"rule","color":"#333333","strokeWidth":1.2},"encoding":{"x2":{"field":"x2"},"y2":{"field":"y2"}}},
{"data":{"values":[{"x":115,"y":45,"t":"mm"},{"x":177,"y":45,"t":"dpt"},{"x":491,"y":33,"t":"90°"},{"x":381,"y":61,"t":"120°"},{"x":600,"y":61,"t":"60°"},{"x":307,"y":142,"t":"150°"},{"x":674.5,"y":142,"t":"30°"},{"x":281,"y":253,"t":"180°"},{"x":694,"y":254,"t":"0°"},{"x":305,"y":369,"t":"210°"},{"x":670,"y":369,"t":"330°"},{"x":379,"y":448,"t":"240°"},{"x":596.5,"y":448,"t":"300°"},{"x":487,"y":476,"t":"270°"},{"x":397,"y":499,"t":"Distance line of sight"}]},"mark":{"type":"text","font":"Liberation Mono","fontWeight":"bold","fontSize":14,"align":"center","baseline":"middle","color":"#111111"},"encoding":{"text":{"field":"t"}}},
{"data":{"values":[{"x":302,"y":518,"t":"Geom. center"},{"x":312,"y":536,"t":"10 μm / 225°"}]},"mark":{"type":"text","font":"Liberation Mono","fontWeight":"bold","fontSize":14,"align":"center","baseline":"middle","color":"#1cc0c0"},"encoding":{"text":{"field":"t"}}},
{"data":{"values":[{"x":482,"y":518,"t":"Pupil center"},{"x":490,"y":536,"t":"60 μm / 198°"}]},"mark":{"type":"text","font":"Liberation Mono","fontWeight":"bold","fontSize":14,"align":"center","baseline":"middle","color":"#ff1088"},"encoding":{"text":{"field":"t"}}},
{"data":{"values":[{"x":80,"y":486,"t":"Keratometry"},{"x":80,"y":498.5,"t":"0..3mm:"}]},"mark":{"type":"text","font":"Liberation Mono","fontWeight":"bold","fontSize":14,"align":"left","baseline":"middle","color":"#111111"},"encoding":{"text":{"field":"t"}}},
{"data":{"values":[{"x":80,"y":513.5,"t":"40.95/ 8.24/133°"}]},"mark":{"type":"text","font":"Liberation Mono","fontWeight":"bold","fontSize":13,"align":"left","baseline":"middle","color":"#33b8ff"},"encoding":{"text":{"field":"t"}}},
{"data":{"values":[{"x":80,"y":525,"t":"44.93/ 7.51/ 43°"}]},"mark":{"type":"text","font":"Liberation Mono","fontWeight":"bold","fontSize":13,"align":"left","baseline":"middle","color":"#ff1010"},"encoding":{"text":{"field":"t"}}},
{"data":{"values":[{"x":88,"y":537,"t":"3.98/-0.73"}]},"mark":{"type":"text","font":"Liberation Mono","fontWeight":"bold","fontSize":13,"align":"left","baseline":"middle","color":"#22ee22"},"encoding":{"text":{"field":"t"}}}
]}
